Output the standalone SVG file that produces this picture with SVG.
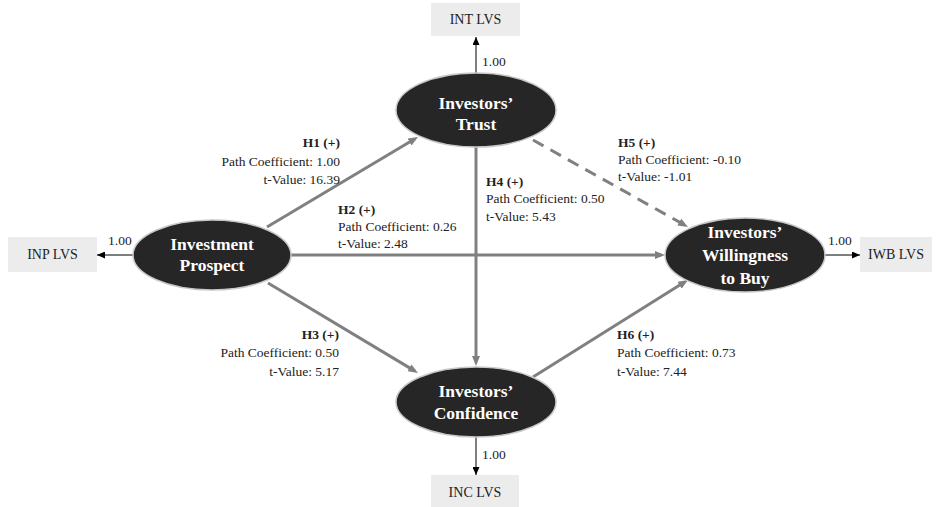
<svg xmlns="http://www.w3.org/2000/svg" width="936" height="507" viewBox="0 0 936 507">
<style>
.node{fill:#262626;stroke:#c8c8c8;stroke-width:1.5}
.nt{font-family:"Liberation Serif","Times New Roman",serif;font-weight:bold;font-size:17.5px;fill:#fff;text-anchor:middle}
.box{fill:#ececec}
.bt{font-family:"Liberation Serif","Times New Roman",serif;font-size:14px;fill:#222;text-anchor:middle}
.lbl{font-family:"Liberation Serif","Times New Roman",serif;font-size:13.5px;fill:#222}
.b{font-weight:bold}
.path{stroke:#808080;stroke-width:3;fill:none;marker-end:url(#ga)}
.dash{stroke-dasharray:12 8}
.load{stroke:#000;stroke-width:1;fill:none;marker-end:url(#ba)}
</style>
<defs>
<marker id="ga" markerUnits="userSpaceOnUse" markerWidth="10" markerHeight="8" refX="6" refY="4" orient="auto"><path d="M0,0 L10,4 L0,8 z" fill="#808080"/></marker>
<marker id="ba" markerUnits="userSpaceOnUse" markerWidth="8" markerHeight="7" refX="8" refY="3.5" orient="auto"><path d="M0,0 L8,3.5 L0,7 z" fill="#000"/></marker>
</defs>
<rect width="936" height="507" fill="#fff"/>
<g id="connectors">
<line class="path" x1="267" y1="227" x2="414.6" y2="139"/>
<line class="path" x1="290" y1="255" x2="661" y2="255"/>
<line class="path" x1="268" y1="283" x2="414.6" y2="370.9"/>
<line class="path" x1="476" y1="147" x2="476" y2="362"/>
<line class="path dash" x1="533" y1="140" x2="684.5" y2="225"/>
<line class="path" x1="533" y1="377" x2="684.6" y2="282.1"/>
<line class="load" x1="476" y1="73" x2="476" y2="37"/>
<line class="load" x1="133" y1="255" x2="97" y2="255"/>
<line class="load" x1="825" y1="255" x2="860" y2="255"/>
<line class="load" x1="476" y1="437" x2="476" y2="475"/>
<text class="lbl" x="482" y="66">1.00</text>
<text class="lbl" x="108" y="245">1.00</text>
<text class="lbl" x="828" y="245">1.00</text>
<text class="lbl" x="482" y="459">1.00</text>
<text class="lbl" text-anchor="end"><tspan class="b" x="340" y="147">H1 (+)</tspan><tspan x="340" y="166">Path Coefficient: 1.00</tspan><tspan x="340" y="184">t-Value: 16.39</tspan></text>
<text class="lbl"><tspan class="b" x="338" y="214">H2 (+)</tspan><tspan x="338" y="231">Path Coefficient: 0.26</tspan><tspan x="338" y="248">t-Value: 2.48</tspan></text>
<text class="lbl" text-anchor="end"><tspan class="b" x="339" y="339">H3 (+)</tspan><tspan x="339" y="357">Path Coefficient: 0.50</tspan><tspan x="339" y="376">t-Value: 5.17</tspan></text>
<text class="lbl"><tspan class="b" x="486" y="186">H4 (+)</tspan><tspan x="486" y="203">Path Coefficient: 0.50</tspan><tspan x="486" y="221">t-Value: 5.43</tspan></text>
<text class="lbl"><tspan class="b" x="618" y="147">H5 (+)</tspan><tspan x="618" y="164">Path Coefficient: -0.10</tspan><tspan x="618" y="181">t-Value: -1.01</tspan></text>
<text class="lbl"><tspan class="b" x="617" y="339">H6 (+)</tspan><tspan x="617" y="357">Path Coefficient: 0.73</tspan><tspan x="617" y="376">t-Value: 7.44</tspan></text>
</g>
<g id="trust">
<ellipse class="node" cx="476" cy="110" rx="80" ry="37"/>
<text class="nt" x="476" y="109">Investors’</text>
<text class="nt" x="476" y="130">Trust</text>
</g>
<g id="prospect">
<ellipse class="node" cx="212" cy="255" rx="79" ry="35"/>
<text class="nt" x="212" y="250">Investment</text>
<text class="nt" x="212" y="271">Prospect</text>
</g>
<g id="willingness">
<ellipse class="node" cx="745" cy="255" rx="80" ry="37"/>
<text class="nt" x="745" y="238">Investors’</text>
<text class="nt" x="745" y="261">Willingness</text>
<text class="nt" x="745" y="284">to Buy</text>
</g>
<g id="confidence">
<ellipse class="node" cx="476" cy="402" rx="80" ry="35"/>
<text class="nt" x="476" y="397">Investors’</text>
<text class="nt" x="476" y="419">Confidence</text>
</g>
<g id="int-lvs">
<rect class="box" x="431" y="3" width="89" height="33"/>
<text class="bt" x="475.5" y="24">INT LVS</text>
</g>
<g id="inp-lvs">
<rect class="box" x="8" y="237" width="89" height="35"/>
<text class="bt" x="52.5" y="259">INP LVS</text>
</g>
<g id="iwb-lvs">
<rect class="box" x="860" y="237" width="72" height="35"/>
<text class="bt" x="896" y="259">IWB LVS</text>
</g>
<g id="inc-lvs">
<rect class="box" x="431" y="475" width="88" height="32"/>
<text class="bt" x="475" y="497">INC LVS</text>
</g>
</svg>
